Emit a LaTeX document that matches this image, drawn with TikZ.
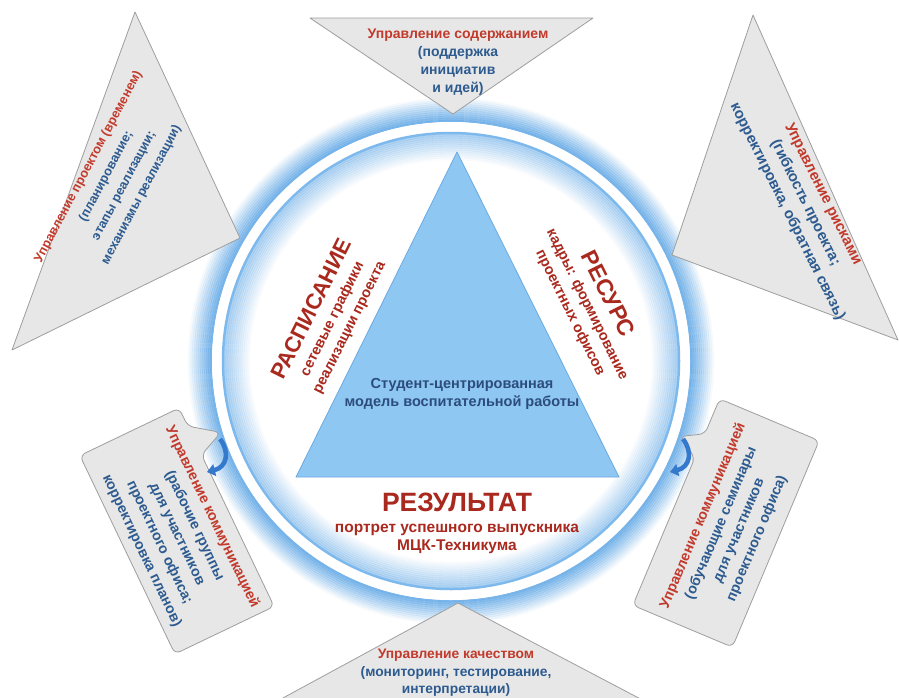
\documentclass[tikz,border=0pt]{standalone}
\usepackage{fontspec}
\setmainfont{Liberation Sans}
\usetikzlibrary{arrows.meta,positioning}

\definecolor{glowblue}{HTML}{4D9DE3}
\definecolor{ringblue}{HTML}{7DB9EC}
\definecolor{triblue}{HTML}{8EC7F2}
\definecolor{triedge}{HTML}{6AAAE2}
\definecolor{shapegray}{HTML}{E7E7E7}
\definecolor{edgegray}{HTML}{9E9E9E}
\definecolor{titlered}{HTML}{A9291E}
\definecolor{notered}{HTML}{C23A2C}
\definecolor{noteblue}{HTML}{2D5B8F}
\definecolor{coreblue}{HTML}{2C4D7C}
\definecolor{arrowblue}{HTML}{3479CC}

\newcommand{\redpart}[1]{\textcolor{notered}{#1}}

\begin{document}
\begin{tikzpicture}[x=1pt, y=-1pt,
    grayshape/.style={fill=shapegray, draw=edgegray, line width=0.8pt, line join=round},
    note/.style={font=\bfseries\fontsize{14}{20}\selectfont, text=noteblue, align=center, inner sep=0pt},
    sidenote/.style={font=\bfseries\fontsize{14.5}{19}\selectfont, text=titlered, align=center, inner sep=0pt},
    curlarrow/.style={arrowblue, line width=4.5pt, -{Triangle[length=8pt, width=12pt]}}]
  \clip (0,0) rectangle (899,697);
  \fill[white] (0,0) rectangle (899,697);

  % circle with glow
  \coordinate (ctr) at (451,361);
  \foreach \k [evaluate=\k as \rr using 240+2*\k, evaluate=\k as \op using 0.75-0.064*\k] in {0,...,11}
    \draw[glowblue, line width=2.2pt, opacity=\op] (ctr) circle (\rr);
  \draw[white, line width=9pt] (ctr) circle (234.5);
  \fill[white] (ctr) circle (230);
  \foreach \k [evaluate=\k as \rr using 226-2*\k, evaluate=\k as \op using 0.45-0.035*\k] in {0,...,12}
    \draw[glowblue, line width=2.2pt, opacity=\op] (ctr) circle (\rr);
  \draw[ringblue, line width=2.5pt] (ctr) circle (228);

  % central triangle
  \coordinate (apex) at (457,152);
  \coordinate (baseL) at (296,477);
  \coordinate (baseR) at (619,477);
  \draw[fill=triblue, draw=triedge, line width=0.8pt, line join=round] (apex) -- (baseL) -- (baseR) -- cycle;

  \node (core) [font=\bfseries\fontsize{14.5}{18}\selectfont, text=coreblue, align=center] at (462,394)
    {Студент-центрированная\\модель воспитательной работы};
  \node (schedule) [sidenote, rotate=63.5] at (330,318)
    {{\fontsize{22}{24}\selectfont РАСПИСАНИЕ}\\[1pt]сетевые графики\\реализации проекта};
  \node (resource) [sidenote, rotate=-63.5] at (590,303)
    {{\fontsize{23}{25}\selectfont РЕСУРС}\\[1pt]кадры: формирование\\проектных офисов};
  \node (result) [sidenote, font=\bfseries\fontsize{15.5}{18}\selectfont] at (457,523)
    {{\fontsize{26.5}{28}\selectfont РЕЗУЛЬТАТ}\\[3pt]портрет успешного выпускника\\МЦК-Техникума};

  % outer triangles
  \draw[grayshape] (310,18) -- (593,18) -- (453,114) -- cycle;
  \node (content) [note, font=\bfseries\fontsize{14}{18}\selectfont] at (458,62)
    {\redpart{Управление содержанием}\\(поддержка\\инициатив\\и идей)};

  \draw[grayshape] (135,12) -- (240,238) -- (12,350) -- cycle;
  \node (project) [note, font=\bfseries\fontsize{12.8}{20}\selectfont, rotate=62] at (115,181)
    {\redpart{Управление проектом (временем)}\\(планирование;\\этапы реализации;\\механизмы реализации)};

  \draw[grayshape] (753,15) -- (898,340) -- (672,255) -- cycle;
  \node (risk) [note, font=\bfseries\fontsize{15}{20}\selectfont, rotate=-63.5] at (805,203)
    {\redpart{Управление рисками}\\(гибкость проекта;\\корректировка, обратная связь)};

  \draw[grayshape] (458,603) -- (652,705) -- (270,705) -- cycle;
  \node (quality) [note, font=\bfseries\fontsize{13.8}{17.5}\selectfont] at (456,673)
    {\redpart{Управление качеством}\\(мониторинг, тестирование,\\интерпретации)};

  % callouts
  \begin{scope}[shift={(177,531)}, rotate=-64.4]
    \draw[grayshape, rounded corners=6] (-110,-55) -- (-90,-55) -- (-70,-82) -- (-58,-55)
      -- (110,-55) -- (110,55) -- (-110,55) -- cycle;
  \end{scope}
  \node (commleft) [note, font=\bfseries\fontsize{14.3}{19.5}\selectfont, rotate=-64.4] at (177,534)
    {\redpart{Управление коммуникацией}\\(рабочие группы\\для участников\\проектного офиса;\\корректировка планов)};

  \begin{scope}[shift={(726,523)}, rotate=67.2]
    \draw[grayshape, rounded corners=6] (-112,-54) -- (48,-54) -- (62,-76) -- (74,-54)
      -- (112,-54) -- (112,54) -- (-112,54) -- cycle;
  \end{scope}
  \node (commright) [note, font=\bfseries\fontsize{14.3}{19.5}\selectfont, rotate=67.2] at (730,527)
    {\redpart{Управление коммуникацией}\\(обучающие семинары\\для участников\\проектного офиса)};

  % curled arrows
  \coordinate (curlLa) at (220,439);
  \coordinate (curlLb) at (207,472);
  \coordinate (curlRa) at (683,439);
  \coordinate (curlRb) at (670,472);
  \draw[curlarrow] (curlLa) .. controls (230,452) and (227,467) .. (curlLb);
  \draw[curlarrow] (curlRa) .. controls (693,452) and (690,467) .. (curlRb);
\end{tikzpicture}
\end{document}
